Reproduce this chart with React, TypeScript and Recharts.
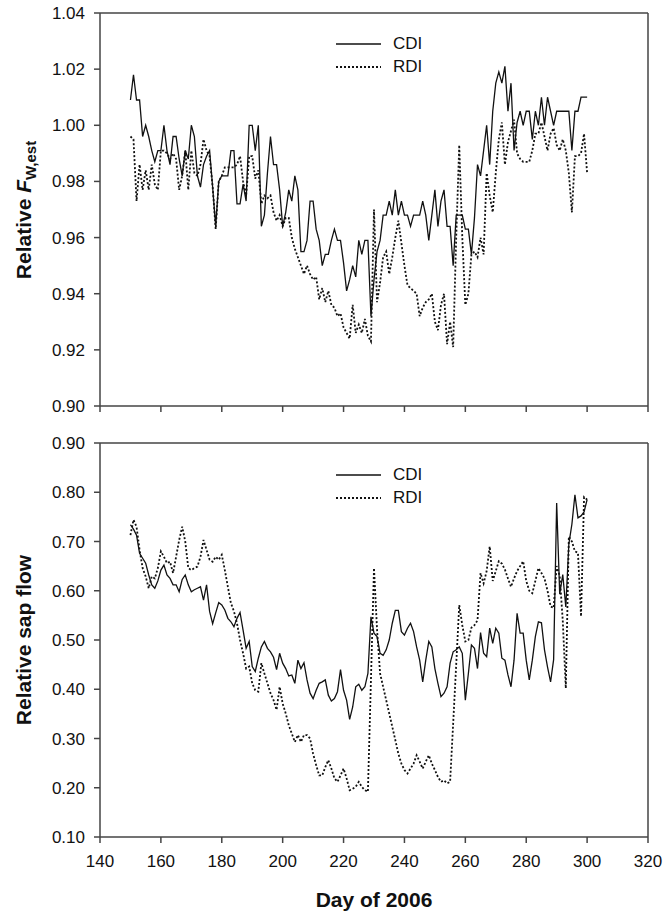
import React from 'react';
import { LineChart, Line, XAxis, YAxis, ReferenceLine, Legend } from 'recharts';

const days = [
  150,151,152,153,154,155,156,157,158,159,160,161,162,163,164,165,166,167,168,169,
  170,171,172,173,174,175,176,177,178,179,180,181,182,183,184,185,186,187,188,189,
  190,191,192,193,194,195,196,197,198,199,200,201,202,203,204,205,206,207,208,209,
  210,211,212,213,214,215,216,217,218,219,220,221,222,223,224,225,226,227,228,229,
  230,231,232,233,234,235,236,237,238,239,240,241,242,243,244,245,246,247,248,249,
  250,251,252,253,254,255,256,257,258,259,260,261,262,263,264,265,266,267,268,269,
  270,271,272,273,274,275,276,277,278,279,280,281,282,283,284,285,286,287,288,289,
  290,291,292,293,294,295,296,297,298,299,300,
];

const fwCDI = [
  1.009,1.018,1.009,1.009,0.996,1.000,0.996,0.991,0.987,0.991,0.991,1.000,0.991,0.986,0.996,0.996,0.988,0.982,0.991,0.988,
  1.000,0.996,0.982,0.978,0.986,0.989,0.991,0.978,0.964,0.980,0.982,0.982,0.982,0.991,0.991,0.972,0.972,0.979,0.973,1.000,
  1.000,0.991,1.000,0.964,0.968,0.983,0.996,0.986,0.986,0.977,0.964,0.969,0.977,0.973,0.982,0.977,0.955,0.955,0.959,0.973,
  0.973,0.963,0.959,0.950,0.954,0.954,0.959,0.963,0.959,0.959,0.951,0.941,0.945,0.950,0.946,0.959,0.954,0.959,0.959,0.932,
  0.945,0.955,0.959,0.968,0.968,0.973,0.968,0.977,0.968,0.973,0.968,0.968,0.964,0.968,0.968,0.968,0.973,0.968,0.959,0.968,
  0.977,0.964,0.973,0.977,0.964,0.964,0.950,0.968,0.968,0.968,0.963,0.963,0.954,0.967,0.986,0.982,0.991,1.000,0.986,1.005,
  1.015,1.019,1.015,1.021,1.005,1.015,0.991,1.001,1.005,1.000,1.005,1.005,0.995,1.005,1.000,1.010,1.000,1.010,1.005,1.000,
  1.005,1.005,1.005,1.005,1.005,0.991,1.005,1.005,1.010,1.010,1.010,
];

const fwRDI = [
  0.996,0.995,0.973,0.986,0.977,0.984,0.977,0.986,0.979,0.977,0.991,0.991,0.990,0.988,0.990,0.988,0.977,0.982,0.991,0.977,
  0.991,0.983,0.982,0.986,0.995,0.991,0.989,0.978,0.963,0.980,0.982,0.985,0.985,0.985,0.985,0.986,0.989,0.980,0.975,0.989,
  0.989,0.981,0.984,0.972,0.975,0.974,0.975,0.969,0.966,0.968,0.964,0.967,0.967,0.960,0.956,0.953,0.950,0.947,0.950,0.947,
  0.945,0.946,0.938,0.942,0.937,0.941,0.936,0.935,0.932,0.933,0.928,0.926,0.924,0.936,0.926,0.929,0.926,0.931,0.925,0.923,
  0.970,0.937,0.944,0.953,0.955,0.947,0.953,0.960,0.966,0.958,0.950,0.943,0.942,0.941,0.940,0.932,0.935,0.937,0.938,0.940,
  0.930,0.927,0.936,0.940,0.922,0.930,0.921,0.960,0.993,0.960,0.936,0.940,0.954,0.955,0.953,0.960,0.954,0.983,0.975,0.969,
  0.983,0.995,1.001,0.986,0.994,0.998,1.002,0.990,0.988,0.987,0.987,0.987,0.991,0.997,0.997,1.001,0.996,0.991,0.997,0.999,
  0.993,0.991,0.995,0.991,0.983,0.969,0.989,0.989,0.990,0.997,0.983,
];

const sapCDI = [
  0.734,0.725,0.713,0.676,0.666,0.656,0.632,0.612,0.605,0.620,0.642,0.652,0.632,0.625,0.612,0.612,0.598,0.623,0.632,0.612,
  0.598,0.602,0.605,0.608,0.581,0.612,0.558,0.533,0.555,0.576,0.571,0.561,0.544,0.537,0.527,0.544,0.556,0.520,0.483,0.497,
  0.446,0.436,0.463,0.486,0.497,0.483,0.476,0.465,0.440,0.473,0.453,0.442,0.427,0.429,0.412,0.459,0.442,0.454,0.419,0.392,
  0.381,0.398,0.412,0.415,0.419,0.388,0.376,0.381,0.395,0.440,0.398,0.378,0.339,0.364,0.405,0.410,0.398,0.405,0.432,0.547,
  0.514,0.507,0.473,0.469,0.480,0.500,0.534,0.560,0.560,0.517,0.510,0.524,0.534,0.517,0.486,0.459,0.415,0.459,0.497,0.486,
  0.442,0.412,0.385,0.392,0.405,0.453,0.476,0.480,0.486,0.473,0.378,0.432,0.490,0.483,0.442,0.515,0.473,0.466,0.524,0.493,
  0.524,0.514,0.463,0.459,0.429,0.405,0.459,0.554,0.514,0.514,0.459,0.419,0.459,0.507,0.537,0.535,0.480,0.445,0.415,0.460,
  0.778,0.593,0.633,0.567,0.695,0.735,0.795,0.748,0.752,0.760,0.785,
];

const sapRDI = [
  0.713,0.744,0.730,0.683,0.646,0.629,0.605,0.629,0.625,0.646,0.680,0.669,0.656,0.659,0.636,0.669,0.703,0.730,0.700,0.646,
  0.642,0.646,0.649,0.669,0.703,0.683,0.663,0.659,0.669,0.663,0.673,0.642,0.608,0.575,0.558,0.534,0.500,0.473,0.442,0.446,
  0.412,0.398,0.395,0.453,0.432,0.412,0.392,0.378,0.358,0.405,0.371,0.351,0.327,0.310,0.293,0.307,0.293,0.307,0.307,0.300,
  0.269,0.246,0.225,0.225,0.242,0.256,0.239,0.219,0.212,0.225,0.239,0.219,0.195,0.198,0.202,0.212,0.202,0.195,0.192,0.420,
  0.646,0.521,0.432,0.405,0.378,0.351,0.324,0.297,0.269,0.249,0.236,0.229,0.239,0.249,0.266,0.253,0.239,0.253,0.266,0.249,
  0.236,0.222,0.212,0.215,0.209,0.212,0.330,0.450,0.571,0.530,0.497,0.500,0.525,0.530,0.540,0.636,0.615,0.640,0.690,0.620,
  0.640,0.660,0.655,0.643,0.625,0.608,0.625,0.640,0.650,0.660,0.620,0.600,0.595,0.620,0.646,0.636,0.625,0.600,0.568,0.565,
  0.650,0.630,0.540,0.402,0.710,0.700,0.680,0.677,0.548,0.790,0.785,
];

const xTicks = [140, 160, 180, 200, 220, 240, 260, 280, 300, 320];
const fwTicks = [0.90, 0.92, 0.94, 0.96, 0.98, 1.00, 1.02, 1.04];
const sapTicks = [0.10, 0.20, 0.30, 0.40, 0.50, 0.60, 0.70, 0.80, 0.90];
const seriesNames = ['CDI', 'RDI'];

const fwData = days.map((d, i) => ({ day: d, CDI: fwCDI[i], RDI: fwRDI[i] }));
const sapData = days.map((d, i) => ({ day: d, CDI: sapCDI[i], RDI: sapRDI[i] }));

const FONT = '"Liberation Sans", Arial, sans-serif';
const AXIS = '#444';
const INK = '#111';
const DOTS = '2 2';

const tickStyle = { fontFamily: FONT, fontSize: 17, fill: '#111' };

const LegendBox = () => (
  <div style={{ fontFamily: FONT, fontSize: 17, color: INK }}>
    {seriesNames.map((n, i) => (
      <div key={n} style={{ display: 'flex', alignItems: 'center', height: 23 }}>
        <svg width={45} height={10} style={{ marginRight: 12 }}>
          <line x1={0} y1={5} x2={45} y2={5} stroke={INK}
            strokeWidth={i === 0 ? 1.3 : 1.8} strokeDasharray={i === 0 ? undefined : DOTS} />
        </svg>
        <span>{n}</span>
      </div>
    ))}
  </div>
);

const YTitle = ({ cy, sub }: { cy: number; sub: boolean }) => (
  <text x={31} y={cy} transform={`rotate(-90 31 ${cy})`} textAnchor="middle"
    style={{ fontFamily: FONT, fontWeight: 'bold', fontSize: 21, fill: '#111' }}>
    {sub ? (
      <>
        <tspan>Relative </tspan>
        <tspan fontStyle="italic">F</tspan>
        <tspan fontSize={15} dy={5}>W,est</tspan>
      </>
    ) : (
      <tspan>Relative sap flow</tspan>
    )}
  </text>
);

const fmt = (v: number) => v.toFixed(2);

export default function App() {
  return (
    <div style={{ position: 'absolute', left: 0, top: 0, width: 665, height: 911, background: '#fff' }}>
      <div style={{ position: 'absolute', left: 0, top: 0 }}>
        <LineChart width={665} height={420} data={fwData} margin={{ top: 13, right: 17, bottom: 0, left: 0 }}>
          <XAxis dataKey="day" type="number" domain={[140, 320]} ticks={xTicks} interval={0}
            tickFormatter={() => ''} height={14} tickSize={6} stroke={AXIS} strokeWidth={1.5} />
          <YAxis type="number" domain={[0.9, 1.04]} ticks={fwTicks} interval={0} width={100}
            tickFormatter={fmt} tickSize={6} tickMargin={9} stroke={AXIS} strokeWidth={1.5}
            tick={tickStyle} label={<YTitle cy={210} sub={true} />} />
          <ReferenceLine y={1.04} stroke={AXIS} strokeWidth={1.5} />
          <ReferenceLine x={320} stroke={AXIS} strokeWidth={1.5} />
          <Legend layout="vertical" verticalAlign="middle" align="center" content={<LegendBox />}
            wrapperStyle={{ left: 336, top: 32, width: 120 }} />
          <Line dataKey="CDI" type="linear" stroke={INK} strokeWidth={1.3} dot={false} isAnimationActive={false} />
          <Line dataKey="RDI" type="linear" stroke={INK} strokeWidth={1.8} strokeDasharray={DOTS} dot={false} isAnimationActive={false} />
        </LineChart>
      </div>
      <div style={{ position: 'absolute', left: 0, top: 420 }}>
        <LineChart width={665} height={491} data={sapData} margin={{ top: 23, right: 17, bottom: 0, left: 0 }}>
          <XAxis dataKey="day" type="number" domain={[140, 320]} ticks={xTicks} interval={0}
            height={74} tickSize={6} tickMargin={12} stroke={AXIS} strokeWidth={1.5} tick={tickStyle}
            label={{ value: 'Day of 2006', position: 'insideBottom', offset: 4,
              style: { fontFamily: FONT, fontWeight: 'bold', fontSize: 21, fill: '#111' } }} />
          <YAxis type="number" domain={[0.1, 0.9]} ticks={sapTicks} interval={0} width={100}
            tickFormatter={fmt} tickSize={6} tickMargin={9} stroke={AXIS} strokeWidth={1.5}
            tick={tickStyle} label={<YTitle cy={220} sub={false} />} />
          <ReferenceLine y={0.9} stroke={AXIS} strokeWidth={1.5} />
          <ReferenceLine x={320} stroke={AXIS} strokeWidth={1.5} />
          <Legend layout="vertical" verticalAlign="middle" align="center" content={<LegendBox />}
            wrapperStyle={{ left: 336, top: 43, width: 120 }} />
          <Line dataKey="CDI" type="linear" stroke={INK} strokeWidth={1.3} dot={false} isAnimationActive={false} />
          <Line dataKey="RDI" type="linear" stroke={INK} strokeWidth={1.8} strokeDasharray={DOTS} dot={false} isAnimationActive={false} />
        </LineChart>
      </div>
    </div>
  );
}
